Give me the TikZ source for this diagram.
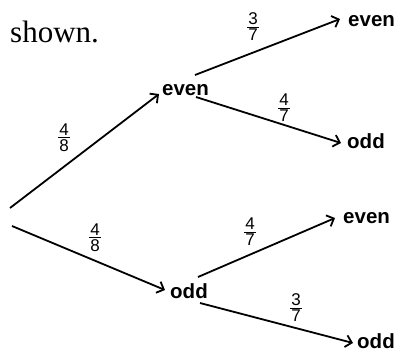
\documentclass[tikz,border=0pt]{standalone}
\usepackage{fontspec}
\setmainfont{Liberation Serif}
\setsansfont{Liberation Sans}
\usetikzlibrary{arrows.meta}
\newcommand{\fr}[2]{\sffamily\fontsize{17}{17}\selectfont\vbox{\offinterlineskip\halign{\hfil\kern1.2pt##\kern1.2pt\hfil\cr #1\cr\noalign{\kern1.6pt\hrule height 1pt\kern1.6pt}#2\cr}}}
\tikzset{
  lbl/.style={font=\sffamily\bfseries\fontsize{20.5}{20.5}\selectfont, inner sep=0pt, anchor=base west},
  frac/.style={inner sep=0pt},
  arr/.style={line width=1.8pt, -{Straight Barb[length=6pt,width=12pt,line width=1.8pt]}}
}
\begin{document}
\begin{tikzpicture}[x=1pt,y=-1pt]
\useasboundingbox (0,0) rectangle (398,351);
\node[font=\fontsize{31}{31}\selectfont, inner sep=0pt, anchor=base west] (title) at (10,42) {shown.};
% nodes
\node[lbl] (even1) at (162,95) {even};
\node[lbl] (odd1) at (170,298) {odd};
\node[lbl] (even2) at (348,26) {even};
\node[lbl] (odd2) at (347,148) {odd};
\node[lbl] (even3) at (343,223) {even};
\node[lbl] (odd3) at (357,348) {odd};
% connector ends
\coordinate (r1) at (10,208);
\coordinate (r2) at (12,226);
\coordinate (e1in) at (159,94);
\coordinate (o1in) at (165,290);
\coordinate (e1outa) at (195,75);
\coordinate (e1outb) at (196,97);
\coordinate (e2in) at (340,19);
\coordinate (o2in) at (341,143);
\coordinate (o1outa) at (198,277);
\coordinate (o1outb) at (200,303);
\coordinate (e3in) at (335,218);
\coordinate (o3in) at (353,343);
\draw[arr] (r1) -- (e1in);
\draw[arr] (r2) -- (o1in);
\draw[arr] (e1outa) -- (e2in);
\draw[arr] (e1outb) -- (o2in);
\draw[arr] (o1outa) -- (e3in);
\draw[arr] (o1outb) -- (o3in);
% fractions
\node[frac] (f1) at (64,138) {\fr{4}{8}};
\node[frac] (f2) at (95,238) {\fr{4}{8}};
\node[frac] (f3) at (253,27) {\fr{3}{7}};
\node[frac] (f4) at (284,108) {\fr{4}{7}};
\node[frac] (f5) at (250,232) {\fr{4}{7}};
\node[frac] (f6) at (296,308) {\fr{3}{7}};
\end{tikzpicture}
\end{document}
